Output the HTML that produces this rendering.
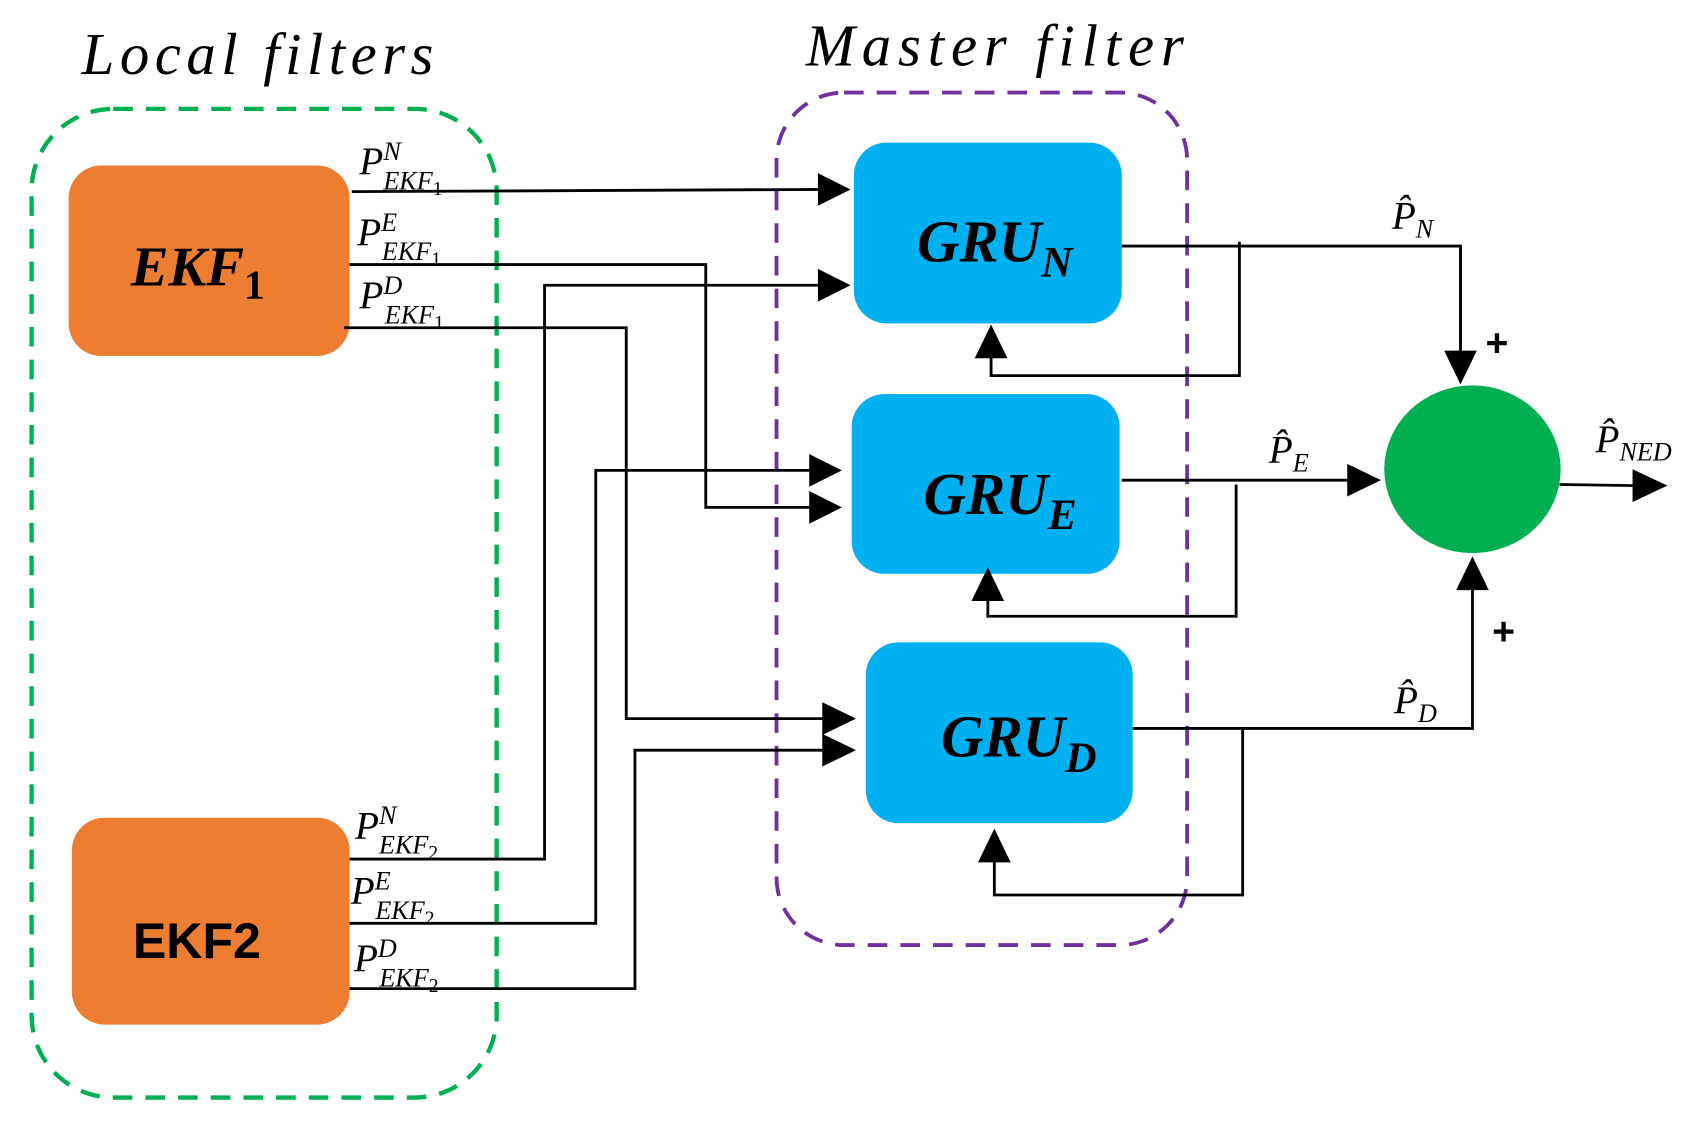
<!DOCTYPE html>
<html><head><meta charset="utf-8"><style>
html,body{margin:0;padding:0;background:#fff;width:1699px;height:1128px;overflow:hidden}
svg{display:block}
.lab{font-family:"Liberation Serif",serif;font-style:italic;fill:#000}
</style></head><body>
<svg width="1699" height="1128" viewBox="0 0 1560 1036" preserveAspectRatio="none" xmlns="http://www.w3.org/2000/svg">
<text x="75" y="68" class="lab" font-size="54" textLength="323" lengthAdjust="spacing">Local filters</text>
<text x="740" y="60" class="lab" font-size="54" textLength="347" lengthAdjust="spacing">Master filter</text>
<rect x="29" y="100" width="427" height="908" rx="75" fill="none" stroke="#00b050" stroke-width="4" stroke-dasharray="18 12"/>
<rect x="713" y="85" width="377" height="783" rx="62" fill="none" stroke="#7030a0" stroke-width="3.5" stroke-dasharray="18 12"/>
<rect x="63" y="152" width="258" height="175" rx="30" fill="#ed7d31"/>
<rect x="66" y="751" width="255" height="190" rx="30" fill="#ed7d31"/>
<rect x="784" y="131" width="246" height="166" rx="30" fill="#00b0f0"/>
<rect x="782" y="362" width="246" height="165" rx="30" fill="#00b0f0"/>
<rect x="795" y="590" width="245" height="166" rx="30" fill="#00b0f0"/>
<ellipse cx="1352" cy="431" rx="81" ry="77" fill="#00b050"/>
<text x="120" y="262" font-family="Liberation Serif,serif" font-style="italic" font-weight="bold" font-size="52">EKF<tspan font-size="38" font-style="normal" dy="12">1</tspan></text>
<text x="122" y="880" font-family="Liberation Sans,sans-serif" font-weight="bold" font-size="46">EKF2</text>
<text x="842" y="240" font-family="Liberation Serif,serif" font-style="italic" font-weight="bold" font-size="54">GRU<tspan font-size="40" dy="14">N</tspan></text>
<text x="848" y="472" font-family="Liberation Serif,serif" font-style="italic" font-weight="bold" font-size="54">GRU<tspan font-size="40" dy="14">E</tspan></text>
<text x="864" y="695" font-family="Liberation Serif,serif" font-style="italic" font-weight="bold" font-size="54">GRU<tspan font-size="40" dy="14">D</tspan></text>
<g fill="none" stroke="#000" stroke-width="2.6">
<polyline points="323,176 755,174"/>
<polyline points="321,243 648,243 648,466 750,466"/>
<polyline points="316,301 575,301 575,660 760,660"/>
<polyline points="321,789 500,789 500,262 755,262"/>
<polyline points="321,848 547,848 547,432 745,432"/>
<polyline points="321,908 583,908 583,689 760,689"/>
<polyline points="1030,226 1341,226 1341,325"/>
<polyline points="1138,222 1138,345 910,345 910,325"/>
<polyline points="1030,441 1240,441"/>
<polyline points="1135,445 1135,566 907,566 907,548"/>
<polyline points="1040,669 1352,669 1352,538"/>
<polyline points="1141,669 1141,822 913,822 913,788"/>
<polyline points="1432,445 1502,446"/>
</g>
<g fill="#000">
<polygon points="751,159 781,174 751,189"/>
<polygon points="751,247 781,262 751,277"/>
<polygon points="743,417 773,432 743,447"/>
<polygon points="743,451 773,466 743,481"/>
<polygon points="755,645 786,660 755,675"/>
<polygon points="755,674 786,689 755,704"/>
<polygon points="1326,322 1356,322 1341,353"/>
<polygon points="895,329 925,329 910,298"/>
<polygon points="892,552 922,552 907,521"/>
<polygon points="898,792 928,792 913,761"/>
<polygon points="1237,426 1268,441 1237,456"/>
<polygon points="1337,542 1367,542 1352,511"/>
<polygon points="1499,431 1531,446 1499,461"/>
</g>
<g class="lab" font-size="36">
<text x="330" y="160">P<tspan font-size="24" dy="-13">N</tspan><tspan font-size="24" dx="-16" dy="27">EKF</tspan><tspan font-size="18" font-style="normal" dy="5">1</tspan></text>
<text x="328" y="225">P<tspan font-size="24" dy="-13">E</tspan><tspan font-size="24" dx="-14" dy="27">EKF</tspan><tspan font-size="18" font-style="normal" dy="5">1</tspan></text>
<text x="330" y="283">P<tspan font-size="24" dy="-13">D</tspan><tspan font-size="24" dx="-16" dy="27">EKF</tspan><tspan font-size="18" font-style="normal" dy="5">1</tspan></text>
<text x="326" y="770">P<tspan font-size="24" dy="-13">N</tspan><tspan font-size="24" dx="-16" dy="27">EKF</tspan><tspan font-size="18" font-style="normal" dy="5">2</tspan></text>
<text x="322" y="830">P<tspan font-size="24" dy="-13">E</tspan><tspan font-size="24" dx="-14" dy="27">EKF</tspan><tspan font-size="18" font-style="normal" dy="5">2</tspan></text>
<text x="325" y="892">P<tspan font-size="24" dy="-13">D</tspan><tspan font-size="24" dx="-16" dy="27">EKF</tspan><tspan font-size="18" font-style="normal" dy="5">2</tspan></text>
<text x="1278" y="210">P̂<tspan font-size="24" dy="8">N</tspan></text>
<text x="1165" y="425">P̂<tspan font-size="24" dy="8">E</tspan></text>
<text x="1280" y="655">P̂<tspan font-size="24" dy="8">D</tspan></text>
<text x="1465" y="415">P̂<tspan font-size="24" dy="8">NED</tspan></text>
</g>
<text x="1364" y="327" font-family="Liberation Sans,sans-serif" font-weight="bold" font-size="36">+</text>
<text x="1370" y="592" font-family="Liberation Sans,sans-serif" font-weight="bold" font-size="36">+</text>
</svg>
</body></html>
